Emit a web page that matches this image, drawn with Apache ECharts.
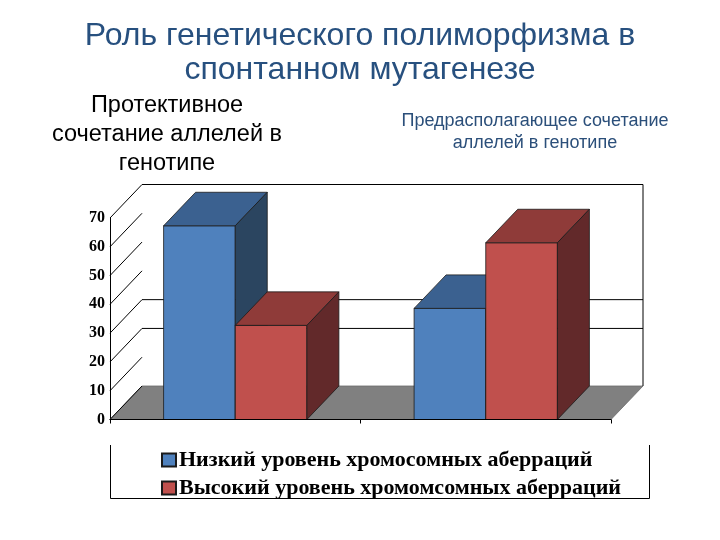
<!DOCTYPE html>
<html>
<head>
<meta charset="utf-8">
<script src="https://cdn.jsdelivr.net/npm/echarts@6/dist/echarts.min.js"></script>
<style>html,body{margin:0;padding:0;background:#fff}#c{width:720px;height:540px}</style>
</head>
<body>
<div id="c"></div>
<script>
// ---- data ----
const titleText = 'Роль генетического полиморфизма в\nспонтанном мутагенезе';
const categories = ['Протективное\nсочетание аллелей в\nгенотипе', 'Предрасполагающее сочетание\nаллелей в генотипе'];
const seriesNames = ['Низкий уровень хромосомных аберраций', 'Высокий уровень хромомсомных аберраций'];
const lowValues = [67.3, 38.6];
const highValues = [32.7, 61.4];
const yTicks = [0, 10, 20, 30, 40, 50, 60, 70];
const backGridValues = [20, 30];

// ---- style ----
const DX = 32, DY = -33.5;
const BAR_RATIO = 0.286;
const faceColors = [
  { front: '#4f81bd', top: '#3b6190', side: '#2b4560' },
  { front: '#c0504d', top: '#8f3b39', side: '#62292a' }
];

function barRender(si) {
  return function (params, api) {
    const cat = api.value(0), val = api.value(1);
    const t = api.coord([cat, val]);
    const b = api.coord([cat, 0]);
    const bw = api.size([1, 0])[0] * BAR_RATIO;
    const x0 = si === 0 ? t[0] - bw : t[0];
    const x1 = x0 + bw;
    const c = faceColors[si];
    const st = { stroke: '#1a1a1a', lineWidth: 0.8 };
    return {
      type: 'group',
      children: [
        { type: 'polygon', shape: { points: [[x0, t[1]], [x1, t[1]], [x1, b[1]], [x0, b[1]]] }, style: Object.assign({ fill: c.front }, st) },
        { type: 'polygon', shape: { points: [[x0, t[1]], [x0 + DX, t[1] + DY], [x1 + DX, t[1] + DY], [x1, t[1]]] }, style: Object.assign({ fill: c.top }, st) },
        { type: 'polygon', shape: { points: [[x1, t[1]], [x1 + DX, t[1] + DY], [x1 + DX, b[1] + DY], [x1, b[1]]] }, style: Object.assign({ fill: c.side }, st) }
      ]
    };
  };
}

function wallRender(params, api) {
  const cs = params.coordSys;
  const gx = cs.x, gw = cs.width;
  const yOf = v => api.coord([0, v])[1];
  const y0 = yOf(0), yTop = yOf(yTicks[yTicks.length - 1]);
  const children = [];
  children.push({ type: 'polygon', shape: { points: [[gx, y0], [gx + gw, y0], [gx + gw + DX, y0 + DY], [gx + DX, y0 + DY]] }, style: { fill: '#808080', stroke: '#6a6a6a', lineWidth: 0.8 } });
  children.push({ type: 'polyline', shape: { points: [[gx + DX, yTop + DY], [gx + gw + DX, yTop + DY], [gx + gw + DX, y0 + DY]] }, style: { stroke: '#000', lineWidth: 1, fill: null } });
  backGridValues.forEach(v => {
    const y = yOf(v);
    children.push({ type: 'line', shape: { x1: gx + DX, y1: y + DY, x2: gx + gw + DX, y2: y + DY }, style: { stroke: '#000', lineWidth: 1 } });
  });
  yTicks.forEach(v => {
    const y = yOf(v);
    children.push({ type: 'line', shape: { x1: gx, y1: y, x2: gx + DX, y2: y + DY }, style: { stroke: '#000', lineWidth: 1 } });
  });
  return { type: 'group', children: children };
}

const chart = echarts.init(document.getElementById('c'), null, { renderer: 'canvas' });
chart.setOption({
  animation: false,
  backgroundColor: '#fff',
  title: [
    { text: titleText, left: 360, top: 19, textAlign: 'center', padding: 0,
      textStyle: { fontFamily: 'Liberation Sans', fontWeight: 'normal', fontSize: 32, lineHeight: 34, color: '#27507f' } },
    { text: categories[0], left: 167, top: 91.5, textAlign: 'center', padding: 0,
      textStyle: { fontFamily: 'Liberation Sans', fontWeight: 'normal', fontSize: 23.5, lineHeight: 29, color: '#000' } },
    { text: categories[1], left: 535, top: 110, textAlign: 'center', padding: 0,
      textStyle: { fontFamily: 'Liberation Sans', fontWeight: 'normal', fontSize: 18, lineHeight: 22, color: '#2b4f7a' } }
  ],
  legend: {
    data: seriesNames,
    orient: 'vertical',
    left: 161, top: 449, padding: 0,
    itemWidth: 14, itemHeight: 13, itemGap: 6,
    icon: 'rect',
    textStyle: { fontFamily: 'Liberation Serif', fontWeight: 'bold', fontSize: 22, color: '#000', padding: [0, 0, 0, -2] }
  },
  grid: { left: 110, right: 109, top: 218, bottom: 120.5 },
  xAxis: {
    type: 'category', data: categories, z: 5,
    axisLine: { show: true, lineStyle: { color: '#000', width: 1 } },
    axisTick: { show: true, length: 4, lineStyle: { color: '#000' } },
    axisLabel: { show: false },
    splitLine: { show: false }
  },
  yAxis: {
    type: 'value', min: 0, max: 70, interval: 10,
    axisLine: { show: true, lineStyle: { color: '#000', width: 1 } },
    axisTick: { show: false },
    splitLine: { show: false },
    axisLabel: { fontFamily: 'Liberation Serif', fontWeight: 'bold', fontSize: 16, color: '#000', margin: 5 }
  },
  graphic: [
    { type: 'polyline', shape: { points: [[110.5, 445], [110.5, 498.5], [649.5, 498.5], [649.5, 445]] }, style: { stroke: '#000', lineWidth: 1, fill: null } }
  ],
  series: [
    { type: 'custom', name: '__walls', z: 1, silent: true, renderItem: wallRender, data: [[0, 0]], encode: { x: 0, y: 1 } },
    { type: 'custom', name: seriesNames[0], z: 2, renderItem: barRender(0),
      itemStyle: { color: faceColors[0].front, borderColor: '#1a1a1a', borderWidth: 1 },
      data: lowValues.map((v, i) => [i, v]), encode: { x: 0, y: 1 } },
    { type: 'custom', name: seriesNames[1], z: 3, renderItem: barRender(1),
      itemStyle: { color: faceColors[1].front, borderColor: '#1a1a1a', borderWidth: 1 },
      data: highValues.map((v, i) => [i, v]), encode: { x: 0, y: 1 } }
  ]
});
</script>
</body>
</html>
